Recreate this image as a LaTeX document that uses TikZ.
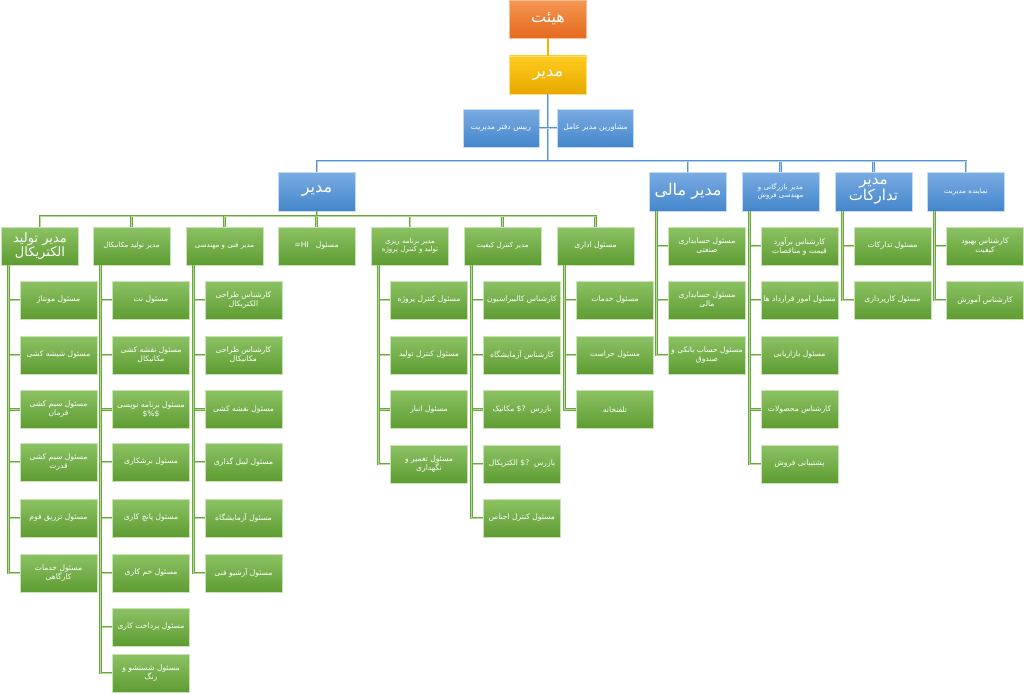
\documentclass[tikz,border=0pt]{standalone}
\usepackage{fontspec}
\newfontfamily\arabicfont[Script=Arabic]{DejaVu Sans}
\TeXXeTstate=1
\newcommand\rl[1]{\beginR#1\endR}
\definecolor{gtop}{RGB}{140,194,100}
\definecolor{gbot}{RGB}{94,156,50}
\definecolor{gedge}{RGB}{200,228,180}
\definecolor{gline}{RGB}{104,168,62}
\definecolor{glinel}{RGB}{180,218,152}
\definecolor{btop}{RGB}{122,172,226}
\definecolor{bbot}{RGB}{68,134,204}
\definecolor{bedge}{RGB}{195,218,242}
\definecolor{bline}{RGB}{84,148,210}
\definecolor{blinel}{RGB}{178,208,238}
\definecolor{otop}{RGB}{246,150,82}
\definecolor{obot}{RGB}{228,106,30}
\definecolor{ytop}{RGB}{255,204,30}
\definecolor{ybot}{RGB}{230,168,0}
\definecolor{yline}{RGB}{245,180,0}
\begin{document}
\begin{tikzpicture}[x=1pt,y=-1pt,
  box/.style={minimum width=77, minimum height=38, inner sep=1pt, align=center,
    text=white, line width=0.6pt, font=\arabicfont\fontsize{7.6}{9}\selectfont},
  gbox/.style={box, top color=gtop, bottom color=gbot, draw=gedge},
  bbox/.style={box, top color=btop, bottom color=bbot, draw=bedge, minimum height=39},
  bigtext/.style={font=\arabicfont\fontsize{16}{18}\selectfont},
  midtext/.style={font=\arabicfont\fontsize{13}{14}\selectfont},
  smalltext/.style={font=\arabicfont\fontsize{7}{8.3}\selectfont},
  gconn/.style={draw=gline, double=glinel, double distance=0.7pt, line width=1.1pt},
  bconn/.style={draw=bline, double=blinel, double distance=0.7pt, line width=1.1pt},
  yconn/.style={draw=yline, line width=2pt}
]
\useasboundingbox (0,0) rectangle (1024,693);
\fill[white] (0,0) rectangle (1024,693);

% top
\node[box, top color=otop, bottom color=obot, draw=otop!60!white, bigtext] (hey) at (548,19) {\rl{هیئت}};
\node[box, top color=ytop, bottom color=ybot, draw=ytop!60!white, bigtext] (ceo) at (548,75) {\rl{مدیر}};
\node[bbox, minimum width=76, minimum height=38] (asl) at (501,128) {\rl{رییس دفتر مدیریت}};
\node[bbox, minimum width=76, minimum height=38] (asr) at (595.5,128) {\rl{مشاورین مدیر عامل}};

% level 2
\node[bbox, bigtext] (m1) at (317,191.5) {\rl{مدیر}};
\node[bbox, bigtext] (m2) at (688,191.5) {\rl{مدیر مالی}};
\node[bbox, smalltext] (m3) at (780.5,191.5) {\rl{مدیر بازرگانی و}\\\rl{مهندسی فروش}};
\node[bbox, font=\arabicfont\fontsize{15}{15}\selectfont] (m4) at (873.5,191.5) {\rl{مدیر}\\\rl{تدارکات}};
\node[bbox, smalltext] (m5) at (966,191.5) {\rl{نماینده مدیریت}};

% level 3
\node[gbox, midtext] (p1) at (40,246) {\rl{مدیر تولید}\\\rl{الکتریکال}};
\node[gbox, smalltext] (p2) at (131.5,246) {\rl{مدیر تولید مکانیکال}};
\node[gbox, smalltext] (p3) at (224.5,246) {\rl{مدیر فنی و مهندسی}};
\node[gbox] (p4) at (316.5,246) {\rl{مسئول\ \ \ \beginL=HI\endL}};
\node[gbox, smalltext] (p5) at (410,246) {\rl{مدیر برنامه ریزی}\\\rl{تولید و کنترل پروژه}};
\node[gbox, smalltext] (p6) at (502.5,246) {\rl{مدیر کنترل کیفیت}};
\node[gbox] (p7) at (595.5,246) {\rl{مسئول اداری}};

% column 1
\node[gbox] (a1) at (58.5,300) {\rl{مسئول مونتاژ}};
\node[gbox] (a2) at (58.5,355) {\rl{مسئول شیشه کشی}};
\node[gbox] (a3) at (58.5,409.5) {\rl{مسئول سیم کشی}\\\rl{فرمان}};
\node[gbox] (a4) at (58.5,462) {\rl{مسئول سیم کشی}\\\rl{قدرت}};
\node[gbox] (a5) at (58.5,518) {\rl{مسئول تزریق فوم}};
\node[gbox] (a6) at (58.5,573) {\rl{مسئول خدمات}\\\rl{کارگاهی}};
% column 2
\node[gbox] (b1) at (151,300) {\rl{مسئول نت}};
\node[gbox] (b2) at (151,355) {\rl{مسئول نقشه کشی}\\\rl{مکانیکال}};
\node[gbox] (b3) at (151,409.5) {\rl{مسئول برنامه نویسی}\\\beginL\$\%\$\endL};
\node[gbox] (b4) at (151,462) {\rl{مسئول برشکاری}};
\node[gbox] (b5) at (151,518) {\rl{مسئول پانچ کاری}};
\node[gbox] (b6) at (151,573) {\rl{مسئول خم کاری}};
\node[gbox] (b7) at (151,627) {\rl{مسئول پرداخت کاری}};
\node[gbox] (b8) at (151,673) {\rl{مسئول شستشو و}\\\rl{رنگ}};
% column 3
\node[gbox] (c1) at (243.5,300) {\rl{کارشناس طراحی}\\\rl{الکتریکال}};
\node[gbox] (c2) at (243.5,355) {\rl{کارشناس طراحی}\\\rl{مکانیکال}};
\node[gbox] (c3) at (243.5,409.5) {\rl{مسئول نقشه کشی}};
\node[gbox] (c4) at (243.5,462) {\rl{مسئول لیبل گذاری}};
\node[gbox] (c5) at (243.5,518) {\rl{مسئول آزمایشگاه}};
\node[gbox] (c6) at (243.5,573) {\rl{مسئول آرشیو فنی}};
% column 5
\node[gbox] (e1) at (429,300) {\rl{مسئول کنترل پروژه}};
\node[gbox] (e2) at (429,355) {\rl{مسئول کنترل تولید}};
\node[gbox] (e3) at (429,409.5) {\rl{مسئول انبار}};
\node[gbox] (e4) at (429,464) {\rl{مسئول تعمیر و}\\\rl{نگهداری}};
% column 6
\node[gbox] (f1) at (522,300) {\rl{کارشناس کالیبراسیون}};
\node[gbox] (f2) at (522,355) {\rl{کارشناس آزمایشگاه}};
\node[gbox] (f3) at (522,409.5) {\rl{بازرس\ \ \beginL?\$\endL\ مکانیک}};
\node[gbox] (f4) at (522,464) {\rl{بازرس\ \ \beginL?\$\endL\ الکتریکال}};
\node[gbox] (f5) at (522,518) {\rl{مسئول کنترل اجناس}};
% column 7
\node[gbox] (g1) at (615,300) {\rl{مسئول خدمات}};
\node[gbox] (g2) at (615,355) {\rl{مسئول حراست}};
\node[gbox] (g3) at (615,409.5) {\rl{تلفنخانه}};
% finance
\node[gbox] (h1) at (707,246) {\rl{مسئول حسابداری}\\\rl{صنعتی}};
\node[gbox] (h2) at (707,300) {\rl{مسئول حسابداری}\\\rl{مالی}};
\node[gbox] (h3) at (707,355) {\rl{مسئول حساب بانکی و}\\\rl{صندوق}};
% commerce
\node[gbox] (k1) at (799.5,246) {\rl{کارشناس برآورد}\\\rl{قیمت و مناقصات}};
\node[gbox] (k2) at (799.5,300) {\rl{مسئول امور قرارداد ها}};
\node[gbox] (k3) at (799.5,355) {\rl{مسئول بازاریابی}};
\node[gbox] (k4) at (799.5,409.5) {\rl{کارشناس محصولات}};
\node[gbox] (k5) at (799.5,464) {\rl{پشتیبانی فروش}};
% procurement
\node[gbox] (t1) at (892.5,246) {\rl{مسئول تدارکات}};
\node[gbox] (t2) at (892.5,300) {\rl{مسئول کارپردازی}};
% representative
\node[gbox] (n1) at (985,246) {\rl{کارشناس بهبود}\\\rl{کیفیت}};
\node[gbox] (n2) at (985,300) {\rl{کارشناس آموزش}};

% connectors top
\draw[yconn] (hey.south) -- (ceo.north);
\coordinate (bbus) at (548,161);
\draw[bconn] (ceo.south) -- (bbus);
\draw[bconn] (asl.east) -- (asl.east -| bbus);
\draw[bconn] (asr.west) -- (asr.west -| bbus);
\foreach \m in {m1,m2,m3,m4,m5} \draw[bconn] (bbus) -| (\m.north);
\coordinate (gbus) at (317,216);
\draw[gconn] (m1.south) -- (gbus);
\foreach \p in {p1,p2,p3,p4,p5,p6,p7} \draw[gconn] (gbus) -| (\p.north);

% column connectors
\foreach \c in {a1,a2,a3,a4,a5,a6} \draw[gconn] ([xshift=7.5]p1.south west) |- (\c.west);
\foreach \c in {b1,b2,b3,b4,b5,b6,b7,b8} \draw[gconn] ([xshift=7.5]p2.south west) |- (\c.west);
\foreach \c in {c1,c2,c3,c4,c5,c6} \draw[gconn] ([xshift=7.5]p3.south west) |- (\c.west);
\foreach \c in {e1,e2,e3,e4} \draw[gconn] ([xshift=7.5]p5.south west) |- (\c.west);
\foreach \c in {f1,f2,f3,f4,f5} \draw[gconn] ([xshift=7.5]p6.south west) |- (\c.west);
\foreach \c in {g1,g2,g3} \draw[gconn] ([xshift=7.5]p7.south west) |- (\c.west);
\foreach \c in {h1,h2,h3} \draw[gconn] ([xshift=7.5]m2.south west) |- (\c.west);
\foreach \c in {k1,k2,k3,k4,k5} \draw[gconn] ([xshift=7.5]m3.south west) |- (\c.west);
\foreach \c in {t1,t2} \draw[gconn] ([xshift=7.5]m4.south west) |- (\c.west);
\foreach \c in {n1,n2} \draw[gconn] ([xshift=7.5]m5.south west) |- (\c.west);
\end{tikzpicture}
\end{document}
